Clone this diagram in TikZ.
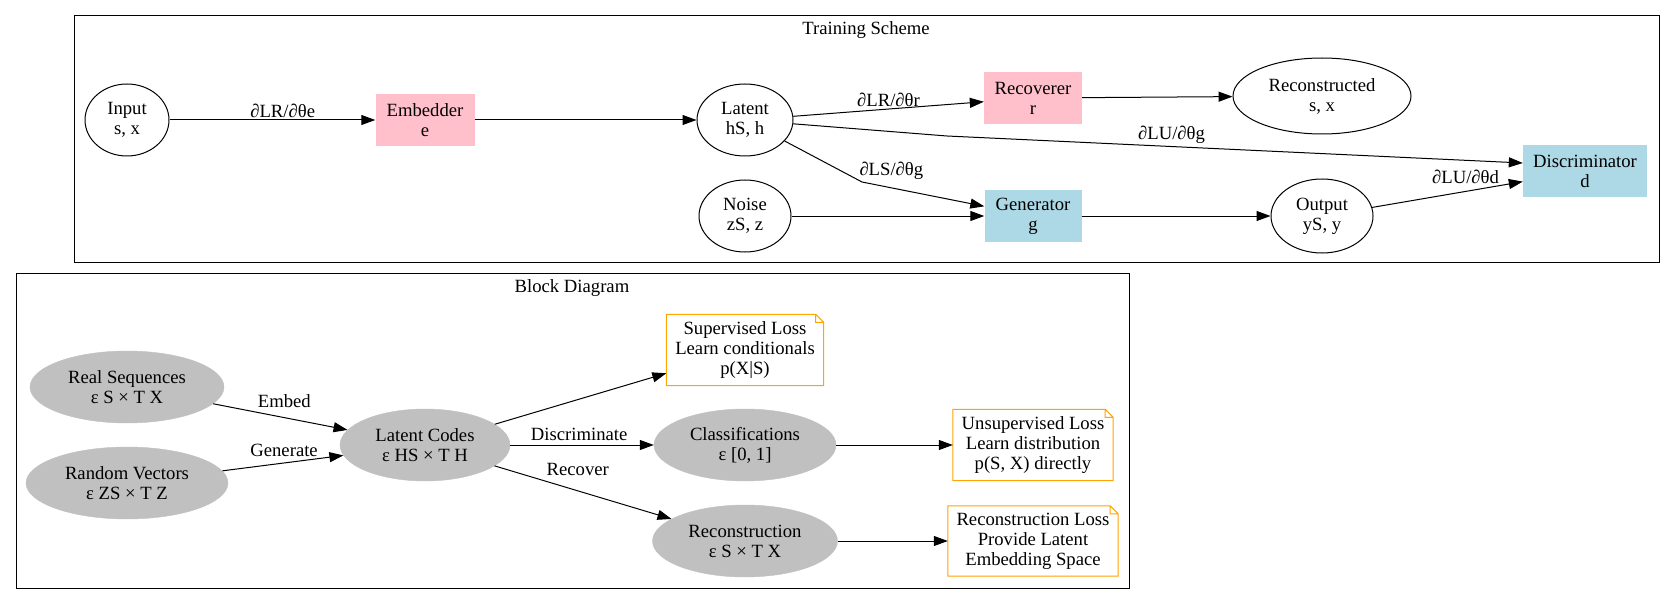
\documentclass[tikz,border=0pt]{standalone}
\usepackage{fontspec}
\setmainfont{Liberation Serif}
\usetikzlibrary{shapes.geometric,arrows.meta}
\definecolor{gvpink}{HTML}{FFC0CB}
\definecolor{gvblue}{HTML}{ADD8E6}
\definecolor{gvgray}{HTML}{C0C0C0}
\definecolor{gvorange}{HTML}{FFA500}
\newcommand{\gv}{\fontsize{18.67pt}{20pt}\selectfont}
\newcommand{\notefold}[1]{\draw[gvorange, line width=1pt] (#1.north west) -- ([xshift=-8pt]#1.north east) -- ([yshift=-8pt]#1.north east) -- (#1.south east) -- (#1.south west) -- cycle ([xshift=-8pt]#1.north east) |- ([yshift=-8pt]#1.north east);}
\tikzset{
  oval/.style={ellipse, draw, line width=1pt, inner sep=0pt, align=center, font=\gv},
  grayoval/.style={ellipse, draw=gvgray, fill=gvgray, inner sep=0pt, align=center, font=\gv},
  block/.style={rectangle, inner sep=0pt, align=center, font=\gv, minimum height=52pt},
  lossnote/.style={rectangle, inner sep=0pt, align=center, font=\gv},
  flow/.style={-{Triangle[length=14pt,width=10pt]}, line width=1pt},
  glabel/.style={font=\gv, inner sep=2pt, above},
  cluster/.style={draw, line width=1pt}
}

\begin{document}
\begin{tikzpicture}[x=1pt,y=-1pt]
\useasboundingbox (0,0) rectangle (1672,604);

% training scheme
\draw[cluster] (74,16) rectangle (1659,262);
\node[font=\gv] (ttitle) at (866,30) {Training Scheme};

\node[oval, minimum width=84pt, minimum height=72pt] (inp) at (127,120) {Input\\s, x};
\node[block, fill=gvpink, minimum width=99pt] (emb) at (425,120) {Embedder\\e};
\node[oval, minimum width=96pt, minimum height=72pt] (lat) at (745,120) {Latent\\hS, h};
\node[oval, minimum width=92pt, minimum height=72pt] (noi) at (745,216) {Noise\\zS, z};
\node[block, fill=gvpink, minimum width=98pt] (rec) at (1033,98) {Recoverer\\r};
\node[block, fill=gvblue, minimum width=97pt] (gen) at (1033,216) {Generator\\g};
\node[oval, minimum width=178pt, minimum height=76pt] (rcn) at (1322,96) {Reconstructed\\s, x};
\node[oval, minimum width=102pt, minimum height=74pt] (out) at (1322,216) {Output\\yS, y};
\node[block, fill=gvblue, minimum width=124pt] (dis) at (1585,171) {Discriminator\\d};

\coordinate (ubend) at (947,136);
\coordinate (sbend) at (862,182);

\draw[flow] (inp) -- node[glabel, pos=0.55]{∂LR/∂θe} (emb);
\draw[flow] (emb) -- (lat);
\draw[flow] (lat) -- node[glabel]{∂LR/∂θr} (rec);
\draw[flow] (rec) -- (rcn);
\draw[flow] (lat) -- (ubend) -- node[glabel, pos=0.39]{∂LU/∂θg} ([yshift=8pt]dis.west);
\draw[flow] (lat) -- (sbend) node[glabel, anchor=south west, xshift=-5pt]{∂LS/∂θg} -- (gen);
\draw[flow] (noi) -- (gen);
\draw[flow] (gen) -- (out);
\draw[flow] (out) -- node[glabel, pos=0.62, yshift=5pt]{∂LU/∂θd} (dis);

% block diagram
\draw[cluster] (16,273) rectangle (1129,588);
\node[font=\gv] (btitle) at (572,288) {Block Diagram};

\node[grayoval, minimum width=194pt, minimum height=72pt] (real) at (127,387) {Real Sequences\\ε S × T X};
\node[grayoval, minimum width=202pt, minimum height=72pt] (rand) at (127,483) {Random Vectors\\ε ZS × T Z};
\node[grayoval, minimum width=170pt, minimum height=72pt] (codes) at (425,445) {Latent Codes\\ε HS × T H};
\node[grayoval, minimum width=182pt, minimum height=72pt] (cls) at (745,445) {Classifications\\ε [0, 1]};
\node[grayoval, minimum width=185pt, minimum height=72pt] (rcs) at (745,541) {Reconstruction\\ε S × T X};
\node[lossnote, minimum width=157pt, minimum height=71pt] (sup) at (745,350) {Supervised Loss\\Learn conditionals\\p(X|S)};
\node[lossnote, minimum width=160pt, minimum height=71pt] (uns) at (1033,445) {Unsupervised Loss\\Learn distribution\\p(S, X) directly};
\node[lossnote, minimum width=170pt, minimum height=70pt] (rls) at (1033,541) {Reconstruction Loss\\Provide Latent\\Embedding Space};
\notefold{sup}
\notefold{uns}
\notefold{rls}

\draw[flow] (real) -- node[glabel, pos=0.53, yshift=7pt]{Embed} (codes);
\draw[flow] (rand) -- node[glabel, pos=0.51, yshift=4pt]{Generate} (codes);
\draw[flow] (codes) -- (sup);
\draw[flow] (codes) -- node[glabel, pos=0.48, yshift=2pt]{Discriminate} (cls);
\draw[flow] (codes) -- node[glabel, pos=0.47, yshift=13pt]{Recover} (rcs);
\draw[flow] (cls) -- (uns);
\draw[flow] (rcs) -- (rls);
\end{tikzpicture}
\end{document}
